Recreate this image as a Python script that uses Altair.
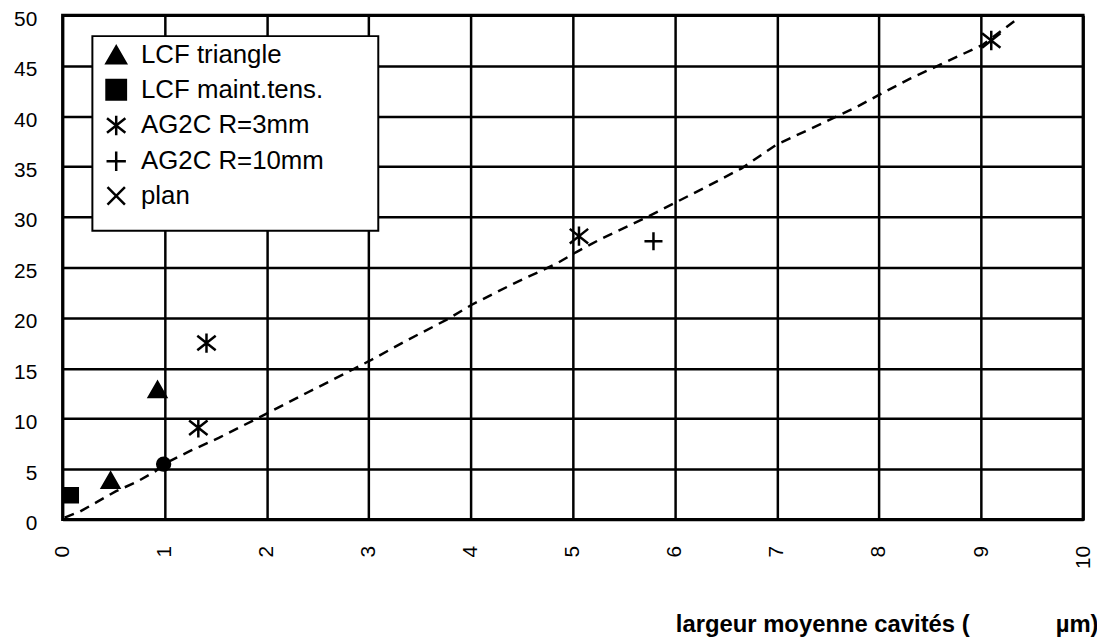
import altair as alt
import pandas as pd

# ---- data ----
series_names = ["LCF triangle", "LCF maint.tens.", "AG2C R=3mm", "AG2C R=10mm", "plan"]

tri_x = [0.47, 0.93]
tri_y = [3.9, 12.9]

sq_x = [0.08]
sq_y = [2.4]

ast_x = [1.33, 1.41, 5.06, 9.10]
ast_y = [9.1, 17.5, 28.1, 47.5]

plus_x = [5.79]
plus_y = [27.6]

circle_x = [0.99]
circle_y = [5.5]

line_x = [0.02, 0.17, 0.33, 0.52, 0.72, 0.91, 0.99, 1.25, 1.53, 1.98, 2.4, 2.79, 3.02,
          3.38, 3.76, 4.01, 4.42, 4.74, 4.86, 5.03, 5.27, 5.71, 6.0, 6.29, 6.65, 7.0,
          7.49, 7.78, 8.0, 8.3, 8.6, 9.02, 9.35]
line_y = [0.2, 0.8, 1.7, 2.8, 3.7, 4.8, 5.5, 6.8, 8.1, 10.4, 12.6, 14.6, 15.8,
          17.8, 19.8, 21.3, 23.4, 24.9, 25.5, 26.5, 27.8, 29.9, 31.4, 32.9, 34.8, 37.2,
          39.5, 40.9, 42.1, 43.7, 45.1, 47.1, 49.6]

x_ticks = list(range(0, 11))
y_ticks = list(range(0, 51, 5))

AST = "M0,-1L0,1M-0.95,-0.75L0.95,0.75M-0.95,0.75L0.95,-0.75"
PLUS = "M-1,0L1,0M0,-1L0,1"
XPATH = "M-0.9,-0.9L0.9,0.9M-0.9,0.9L0.9,-0.9"
shape_range = ["triangle-up", "square", AST, PLUS, XPATH]
fill_range = ["black", "black", "transparent", "transparent", "transparent"]
stroke_range = ["black"] * 5
sizes = [300, 200, 380, 330, 330]

point_sets = [(tri_x, tri_y), (sq_x, sq_y), (ast_x, ast_y), (plus_x, plus_y), ([], [])]

FONT = "Liberation Sans"

title_text = "largeur moyenne cavités (" + "\u00a0" * 13 + "µm)"
# invisible bottom title that gives the legend box its width and bottom margin
legend_pad_title = "\u200b" + "\u00a0" * 99 + "\u200b"


def legend():
    return alt.Legend(title=legend_pad_title, titleOrient="bottom")


x_enc = alt.X("x:Q",
              scale=alt.Scale(domain=[0, 10], nice=False, zero=False),
              axis=alt.Axis(values=x_ticks, title=title_text, labelAngle=270,
                            labelPadding=26, ticks=False, domain=False,
                            grid=True, titleX=1043, titleY=113,
                            titleAlign="right", titleBaseline="alphabetic",
                            titleFontWeight="bold", titleFontSize=24))
y_enc = alt.Y("y:Q",
              scale=alt.Scale(domain=[0, 50], nice=False),
              axis=alt.Axis(values=y_ticks, title=None, labelPadding=26,
                            ticks=False, domain=False, grid=True, labelOffset=4))

line_df = pd.DataFrame({"x": line_x, "y": line_y})
line = alt.Chart(line_df).mark_line(color="black", strokeWidth=2.5,
                                    strokeDash=[10, 7]).encode(x=x_enc, y=y_enc)

layers = [line]
for i, (name, (xs, ys)) in enumerate(zip(series_names, point_sets)):
    if not xs:
        continue
    df = pd.DataFrame({"x": xs, "y": ys, "series": [name] * len(xs)})
    layer = alt.Chart(df).mark_point(strokeWidth=2.5, opacity=1,
                                     size=sizes[i]).encode(
        x=x_enc, y=y_enc,
        shape=alt.Shape("series:N",
                        scale=alt.Scale(domain=series_names, range=shape_range),
                        legend=legend()),
        fill=alt.Fill("series:N",
                      scale=alt.Scale(domain=series_names, range=fill_range),
                      legend=legend()),
        stroke=alt.Stroke("series:N",
                          scale=alt.Scale(domain=series_names, range=stroke_range),
                          legend=legend()),
    )
    layers.append(layer)

circ_df = pd.DataFrame({"x": circle_x, "y": circle_y})
circ = alt.Chart(circ_df).mark_point(shape="circle", filled=True, color="black",
                                     opacity=1, size=240).encode(x=x_enc, y=y_enc)
layers.append(circ)

chart = alt.layer(*layers).properties(
    width=1028, height=508,
    autosize=alt.AutoSizeParams(type="none"),
    padding={"left": 55, "top": 5, "right": 14, "bottom": 121},
).configure_view(
    stroke="black", strokeWidth=3
).configure_axis(
    labelFont=FONT, titleFont=FONT, labelFontSize=21, labelColor="black",
    titleColor="black", gridColor="black", gridWidth=2.5, gridOpacity=1,
).configure_legend(
    orient="none", legendX=30, legendY=21,
    fillColor="white", strokeColor="black", strokeWidth=2,
    padding=6, rowPadding=6, labelFont=FONT, labelFontSize=26,
    labelColor="black", labelLimit=500, labelOffset=12,
    symbolSize=380, symbolStrokeWidth=2.5, symbolOffset=5,
    symbolOpacity=1,
    titleFont=FONT, titleFontSize=10, titlePadding=5, titleLimit=2000,
)

chart.save("out.html", embed_options={"renderer": "svg", "actions": False})
